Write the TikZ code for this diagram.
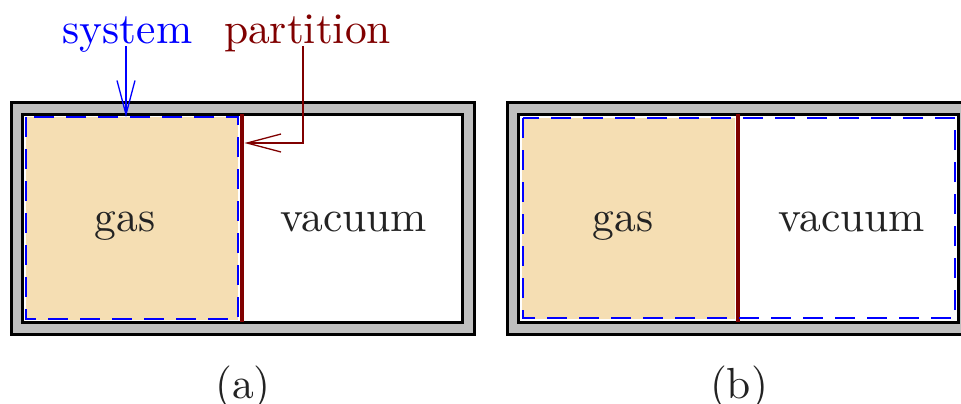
\documentclass[tikz,border=0pt]{standalone}
\usetikzlibrary{arrows.meta}
\definecolor{wallc}{RGB}{191,191,191}
\definecolor{gasc}{RGB}{245,222,179}
\definecolor{partc}{RGB}{128,0,0}
\definecolor{txtc}{RGB}{35,35,35}
\newcommand{\bigtxt}[1]{\scalebox{2.175}{#1}}
\begin{document}
\begin{tikzpicture}[x=0.5pt,y=-0.5pt,
  wallbox/.style={draw=black,line width=1.5pt,fill=wallc},
  innerbox/.style={draw=black,line width=1.5pt,fill=white},
  gasfill/.style={fill=gasc},
  sysline/.style={draw=blue,line width=0.9pt,dash pattern=on 10pt off 6pt},
  partline/.style={draw=partc,line width=1.6pt},
  lbl/.style={text=txtc,anchor=base,inner sep=0pt},
  callout/.style={anchor=base,inner sep=0pt},
  pointer/.style={line width=0.65pt,-{Straight Barb[length=17pt,width=9pt]}}]
\useasboundingbox (0,0) rectangle (961,403);
% panel (a)
\draw[wallbox] (11,102) rectangle (474,334);
\draw[innerbox] (22,114) rectangle (462,322);
\fill[gasfill] (25.5,116.5) rectangle (238,319.5);
\draw[sysline] (26,117) rectangle (238,319);
\draw[partline] (242,114) -- (242,322);
\node[lbl] (gasA) at (125,231) {\bigtxt{gas}};
\node[lbl] (vacA) at (354,231) {\bigtxt{vacuum}};
\node[lbl] (capA) at (243,398) {\bigtxt{(a)}};
\node[callout,text=blue] (system) at (127.5,43.3) {\bigtxt{system}};
\node[callout,text=partc] (partition) at (307.5,43.3) {\bigtxt{partition}};
\coordinate (sysT) at (126,117);
\coordinate (partT) at (244.5,143);
\draw[pointer,blue] ([yshift=-1.4pt]system.base -| sysT) -- (sysT);
\draw[pointer,partc] ([xshift=-2.25pt,yshift=-1.4pt]partition.base) |- (partT);
% panel (b)
\begin{scope}[xshift=248pt]
\draw[wallbox] (11,102) rectangle (474,334);
\draw[innerbox] (22,114) rectangle (462,322);
\fill[gasfill] (26,117.5) rectangle (239,318.5);
\draw[partline] (242,114) -- (242,322);
\draw[sysline] (27,118) rectangle (459,318);
\node[lbl] (gasB) at (127,231) {\bigtxt{gas}};
\node[lbl] (vacB) at (356,231) {\bigtxt{vacuum}};
\node[lbl] (capB) at (243,398) {\bigtxt{(b)}};
\end{scope}
\end{tikzpicture}
\end{document}
